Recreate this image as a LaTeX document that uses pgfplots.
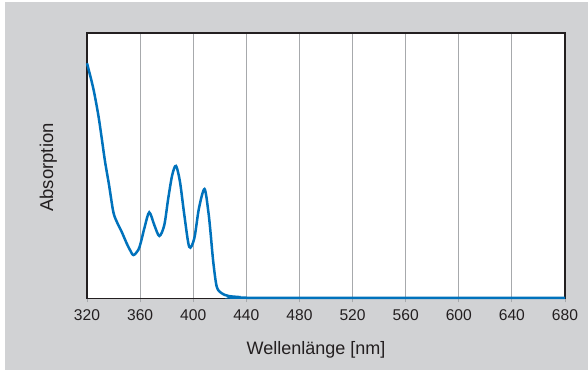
\documentclass[border=0pt]{standalone}
\usepackage{pgfplots}
\pgfplotsset{compat=1.18}
\usepackage{fontspec}
\setmainfont{Liberation Sans}
\definecolor{bggray}{HTML}{D1D2D4}
\definecolor{curveblue}{HTML}{0072BC}
\definecolor{framedark}{HTML}{231F20}
\definecolor{gridgray}{HTML}{A7A9AC}
\definecolor{textdark}{HTML}{231F20}
\begin{document}
\begin{tikzpicture}[x=1pt,y=1pt]
\fill[white] (0,0) rectangle (588,-370);
\fill[bggray] (5,-2) rectangle (588,-370);
\begin{axis}[
  at={(87pt,-298.3pt)}, anchor=south west,
  scale only axis, width=478pt, height=265.3pt,
  xmin=320, xmax=680, ymin=0, ymax=1,
  xtick={320,360,...,680}, ytick=\empty,
  xtick pos=bottom, tick align=outside,
  major tick length=4pt,
  major tick style={draw=gridgray, line width=1pt},
  xmajorgrids, grid style={draw=gridgray, line width=1pt},
  axis line style={draw=framedark, line width=1.5pt},
  axis background/.style={fill=white},
  clip=false,
  /pgf/number format/assume math mode=true,
  /pgf/number format/1000 sep={},
  xticklabel style={font=\fontsize{15.6}{18}\selectfont, text=textdark, anchor=base, yshift=-18.4pt},
  xlabel={Wellenlänge [nm]},
  xlabel style={at={(axis description cs:0.479,0)}, anchor=base, yshift=-55.7pt, font=\fontsize{18}{21}\selectfont, text=textdark},
]
\addplot[curveblue, line width=2.5pt, smooth, tension=0.5] coordinates {
(320,0.886) (324.7,0.792) (328.5,0.691) (331.1,0.603) (333.6,0.515)
(336.6,0.427) (339.8,0.326) (342.4,0.289) (346.1,0.251) (349.9,0.207)
(352.4,0.182) (355.0,0.163) (358.6,0.182) (360.5,0.210) (363.5,0.270)
(366.9,0.324) (370.7,0.276) (374.5,0.235) (378.2,0.276) (381.2,0.377)
(384.2,0.465) (387.0,0.499) (390.0,0.440) (393.3,0.314) (397.0,0.194)
(400.8,0.226) (404.3,0.339) (408.5,0.412) (411.4,0.326) (413.0,0.250)
(415.1,0.137) (417.7,0.044) (421.4,0.019) (426.4,0.009) (434.0,0.005)
(446.5,0.002) (680,0.002)
};
\node[rotate=90, anchor=base, font=\fontsize{18.5}{21}\selectfont, text=textdark]
  at ([xshift=-34pt]axis description cs:0,0.493) {Absorption};
\end{axis}
\pgfresetboundingbox
\useasboundingbox (0,0) rectangle (588,-370);
\end{tikzpicture}
\end{document}
